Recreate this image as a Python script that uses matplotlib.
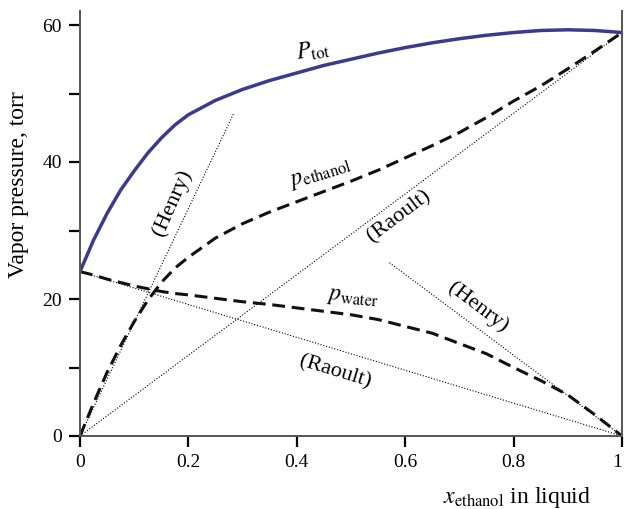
import matplotlib
matplotlib.use("Agg")
import matplotlib.pyplot as plt

plt.rcParams['font.family'] = ['Liberation Serif', 'DejaVu Serif']
plt.rcParams['mathtext.fontset'] = 'stix'

# Mole fraction of ethanol in liquid
x_liq = [0, 0.025, 0.05, 0.075, 0.1, 0.125, 0.15, 0.175, 0.2, 0.25, 0.3, 0.35, 0.4, 0.45, 0.5,
         0.55, 0.6, 0.65, 0.7, 0.75, 0.8, 0.85, 0.9, 0.95, 1.0]
# Total vapor pressure (torr)
p_tot = [24, 28.6, 32.5, 35.9, 38.7, 41.3, 43.5, 45.4, 46.9, 49.0, 50.6, 51.9, 53.0, 54.1, 55.0,
         55.9, 56.7, 57.4, 58.0, 58.5, 58.9, 59.2, 59.3, 59.2, 58.9]
# Partial pressures (torr)
p_ethanol = [0, 4.8, 9.3, 13.2, 16.7, 19.8, 22.4, 24.5, 26.1, 28.9, 31.0, 32.7, 34.2, 35.7, 37.2,
             38.8, 40.6, 42.4, 44.3, 46.5, 48.9, 51.1, 53.6, 56.2, 58.9]
p_water = [24, 23.5, 22.9, 22.4, 21.9, 21.5, 21.1, 20.8, 20.6, 20.1, 19.6, 19.2, 18.7, 18.2, 17.7,
           17.0, 16.0, 15.0, 13.5, 12.0, 10.0, 8.1, 6.0, 3.1, 0]

# Reference lines
raoult_ethanol = ([0, 1], [0, 58.9])
raoult_water = ([0, 1], [24, 0])
henry_ethanol = ([0, 0.283], [0, 47.0])
henry_water = ([0.571, 1], [25.3, 0])

xticks = [0, 0.2, 0.4, 0.6, 0.8, 1]
xticklabels = ["0", "0.2", "0.4", "0.6", "0.8", "1"]
yticks = [0, 10, 20, 30, 40, 50, 60]
yticklabels = ["0", "", "20", "", "40", "", "60"]

fig = plt.figure(figsize=(6.24, 5.09), dpi=100)
ax = fig.add_axes([80/624, 1-436/509, 542/624, 424.7/509])

dot = dict(color='black', lw=0.8, linestyle=(0, (1, 1.6)))
ax.plot(*raoult_ethanol, **dot)
ax.plot(*raoult_water, **dot)
ax.plot(*henry_ethanol, **dot)
ax.plot(*henry_water, **dot)

ax.plot(x_liq, p_ethanol, color='#111111', lw=2.2, linestyle=(0, (4.2, 2.2)), solid_capstyle='butt')
ax.plot(x_liq, p_water, color='#111111', lw=2.2, linestyle=(0, (4.2, 2.2)), solid_capstyle='butt')
ax.plot(x_liq, p_tot, color='#3b3b8e', lw=2.5, solid_capstyle='round', solid_joinstyle='round')

ax.set_xlim(0, 1)
ax.set_ylim(0, 62)
ax.set_xticks(xticks)
ax.set_xticklabels(xticklabels)
ax.set_yticks(yticks)
ax.set_yticklabels(yticklabels)
ax.tick_params(direction='out', length=8, width=1.6, labelsize=14, color='black', pad=5)
ax.get_xticklabels()[-1].set_horizontalalignment('right')
ax.spines['top'].set_visible(False)
for s in ['left', 'bottom', 'right']:
    ax.spines[s].set_color('#555555')
    ax.spines[s].set_linewidth(1.4)

ax.set_ylabel('Vapor pressure, torr', fontsize=17)
ax.yaxis.set_label_coords(-0.094, 0.593)
ax.text(0.806, -0.145, r'$x_{\mathrm{ethanol}}$ in liquid', transform=ax.transAxes,
        fontsize=17, ha='center', va='center')

fs = 16
ax.text(0.17, 34, '(Henry)', rotation=66, fontsize=fs, ha='center', va='center', rotation_mode='anchor')
ax.text(0.588, 32.1, '(Raoult)', rotation=37, fontsize=fs, ha='center', va='center', rotation_mode='anchor')
ax.text(0.734, 18.8, '(Henry)', rotation=-37, fontsize=fs, ha='center', va='center', rotation_mode='anchor')
ax.text(0.471, 9.3, '(Raoult)', rotation=-17, fontsize=fs, ha='center', va='center', rotation_mode='anchor')
ax.text(0.444, 38.3, r'$p_{\mathrm{ethanol}}$', rotation=17, fontsize=17, ha='center', va='center', rotation_mode='anchor')
ax.text(0.503, 20.1, r'$p_{\mathrm{water}}$', rotation=-5, fontsize=17, ha='center', va='center', rotation_mode='anchor')
ax.text(0.429, 56.2, r'$P_{\mathrm{tot}}$', rotation=9, fontsize=17, ha='center', va='center', rotation_mode='anchor')

fig.savefig('out.png', dpi=100)
